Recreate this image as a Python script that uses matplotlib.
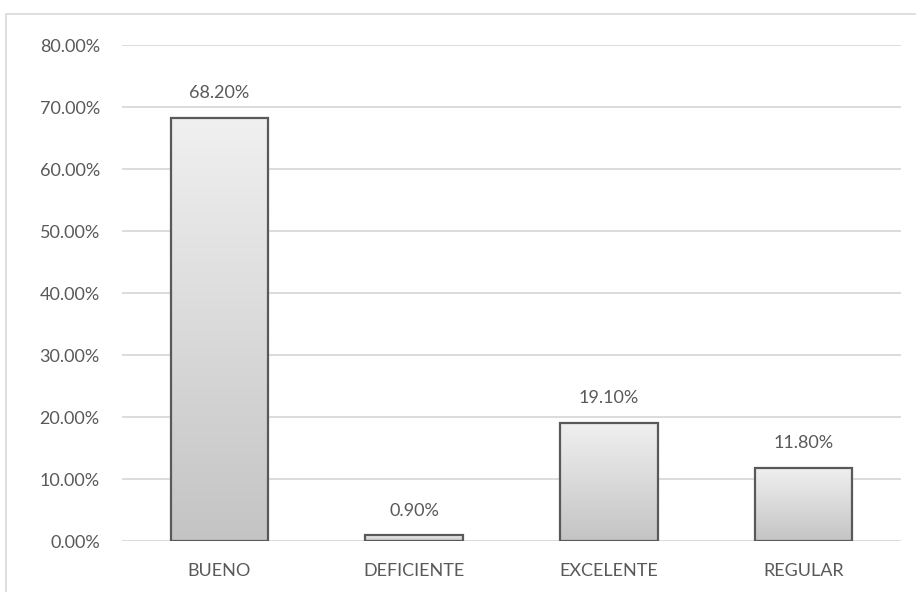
import numpy as np
import matplotlib
matplotlib.use("Agg")
import matplotlib.pyplot as plt
from matplotlib.patches import Rectangle

categories = ["BUENO", "DEFICIENTE", "EXCELENTE", "REGULAR"]
values = [0.682, 0.009, 0.191, 0.118]
labels = ["68.20%", "0.90%", "19.10%", "11.80%"]
yticks = [0.0, 0.1, 0.2, 0.3, 0.4, 0.5, 0.6, 0.7, 0.8]

plt.rcParams['font.family'] = ['Lato', 'DejaVu Sans']
text_color = "#595959"

fig = plt.figure(figsize=(9.16, 5.92), dpi=100)
ax = fig.add_axes([122 / 916, 51 / 592, 779 / 916, 496 / 592])

# outer chart border
fig.patches.append(Rectangle((6 / 916, -0.01), 1.0, 578 / 592 + 0.01,
                             transform=fig.transFigure, fill=False,
                             edgecolor="#d9d9d9", linewidth=1.2))

x = np.arange(len(categories))
bars = ax.bar(x, values, width=0.5, facecolor="none", edgecolor="#595959",
              linewidth=1.6, zorder=3)

# vertical grey gradient in each bar
cmap = matplotlib.colors.LinearSegmentedColormap.from_list("g", ["#c4c4c4", "#f0f0f0"])
grad = np.linspace(0, 1, 256).reshape(-1, 1)
for b in bars:
    x0, y0 = b.get_x(), b.get_y()
    w, h = b.get_width(), b.get_height()
    im = ax.imshow(grad, cmap=cmap, origin="lower", aspect="auto",
                   extent=(x0, x0 + w, y0, y0 + h), zorder=2)
    im.set_clip_path(b)

for b, lab in zip(bars, labels):
    ax.annotate(lab, (b.get_x() + b.get_width() / 2, b.get_height()),
                xytext=(0, 12), textcoords="offset points", ha="center",
                va="bottom", fontsize=13, color=text_color)

ax.set_xlim(-0.5, 3.5)
ax.set_ylim(0, 0.8)
ax.set_yticks(yticks)
ax.set_yticklabels([f"{v * 100:.2f}%" for v in yticks])
ax.set_xticks(x)
ax.set_xticklabels(categories)
ax.tick_params(axis="y", length=0, pad=16, labelsize=13, labelcolor=text_color)
ax.tick_params(axis="x", length=0, pad=16, labelsize=13, labelcolor=text_color)
ax.grid(axis="y", color="#d9d9d9", linewidth=1.3, zorder=0)
for s in ax.spines.values():
    s.set_visible(False)
ax.set_axisbelow(True)

fig.savefig("out.png", dpi=100)
